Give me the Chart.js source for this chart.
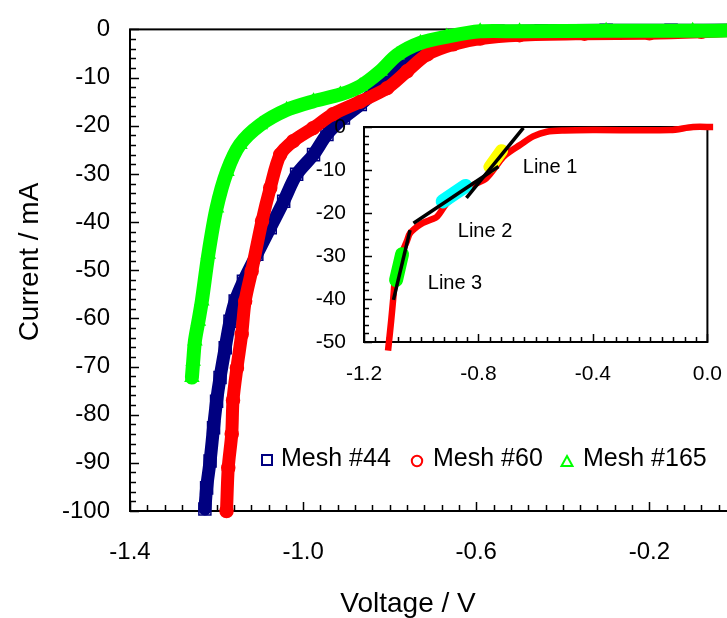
<!DOCTYPE html>
<html>
<head>
<meta charset="utf-8">
<script src="https://cdn.jsdelivr.net/npm/chart.js@4.4.1/dist/chart.umd.min.js"></script>
<style>
  html, body { margin: 0; padding: 0; background: #fff; overflow: hidden; }
  #wrap { position: relative; width: 760px; height: 618px; overflow: hidden; }
  #main { position: absolute; left: 0; top: -5px; }
  #inset { position: absolute; left: 290px; top: 95px; }
</style>
</head>
<body>
<div id="wrap">
  <canvas id="main" width="760" height="623"></canvas>
  <canvas id="inset" width="452" height="300"></canvas>
</div>
<script>
const FONT = '"Liberation Sans", Arial, sans-serif';

// Mesh #44 (blue squares)
const mesh44V = [-1.227, -1.223, -1.215, -1.207, -1.200, -1.192, -1.180, -1.169, -1.157, -1.138, -1.107, -1.076, -1.045, -1.015, -0.976, -0.945, -0.907, -0.868, -0.822, -0.776, -0.729, -0.667, -0.607, -0.55, -0.45, -0.30, -0.15, 0.0];
const mesh44I = [-99.6, -95.2, -89.6, -82.7, -77.2, -72.3, -66.1, -60.6, -56.4, -52.3, -46.7, -41.2, -35.7, -30.1, -26.0, -21.8, -18.4, -15.6, -11.8, -7.6, -4.6, -2.1, -0.8, -0.4, -0.3, -0.2, -0.2, -0.1];

// Mesh #60 (red circles)
const mesh60V = [-1.177, -1.173, -1.165, -1.162, -1.153, -1.142, -1.134, -1.119, -1.095, -1.076, -1.053, -1.023, -0.977, -0.931, -0.868, -0.806, -0.760, -0.713, -0.653, -0.591, -0.50, -0.35, -0.20, -0.08, 0.0];
const mesh60I = [-100, -91, -84, -77, -70.3, -63.3, -56.4, -50.2, -39.8, -32.9, -26.0, -23.2, -20.5, -17.6, -15.0, -12.2, -8.7, -5.2, -3.1, -1.9, -1.2, -0.9, -0.8, -0.5, -0.2];

// Mesh #165 (green triangles)
const mesh165V = [-1.257, -1.254, -1.250, -1.242, -1.234, -1.219, -1.200, -1.176, -1.146, -1.099, -1.038, -0.976, -0.914, -0.868, -0.822, -0.783, -0.729, -0.668, -0.591, -0.50, -0.30, -0.10, 0.0];
const mesh165I = [-72.3, -68.9, -64.7, -60.6, -56.4, -46.7, -37.1, -29.5, -23.9, -19.8, -16.7, -14.9, -13.5, -11.8, -8.7, -5.3, -2.8, -1.5, -0.4, -0.4, -0.3, -0.3, -0.2];

// inset: Mesh #60 curve, fitted lines and marked regions
const insetV = [-1.116, -1.105, -1.098, -1.092, -1.080, -1.067, -1.050, -1.039, -1.015, -0.994, -0.965, -0.945, -0.910, -0.864, -0.819, -0.772, -0.714, -0.690, -0.655, -0.609, -0.561, -0.50, -0.40, -0.13, -0.05, 0.02];
const insetI = [-52, -45, -40, -35.6, -32, -29.3, -26.5, -24.7, -23.2, -22.3, -21.5, -20.9, -17.7, -15.3, -13.5, -11.9, -7.0, -5.7, -4.2, -2.2, -1.1, -0.8, -0.7, -0.7, 0.0, 0.0];

const line1V = [-0.842, -0.643];
const line1I = [-16.5, -0.2];
const line2V = [-1.027, -0.730];
const line2I = [-22.4, -9.2];
const line3V = [-1.097, -1.039];
const line3I = [-40.2, -24.0];

const markYellowV = [-0.760, -0.719];
const markYellowI = [-9.3, -5.5];
const markCyanV = [-0.925, -0.845];
const markCyanI = [-17.3, -13.7];
const markGreenV = [-1.088, -1.067];
const markGreenI = [-35.6, -29.6];

const mainXTicks = [-1.4, -1.0, -0.6, -0.2];
const mainYTicks = [0, -10, -20, -30, -40, -50, -60, -70, -80, -90, -100];
const insetXTicks = [-1.2, -0.8, -0.4, 0.0];
const insetYTicks = [0, -10, -20, -30, -40, -50];

const legendNames = ['Mesh #44', 'Mesh #60', 'Mesh #165'];
const lineNames = ['Line 1', 'Line 2', 'Line 3'];

const pts = (vs, is) => vs.map((v, k) => ({ x: v, y: is[k] }));

// box and inward tick marks
function framePlugin(o) {
  return {
    id: 'frame',
    beforeDatasetsDraw(chart) {
      const { ctx, chartArea: a, scales: { x, y } } = chart;
      ctx.save();
      if (o.fill) {
        ctx.fillStyle = '#fff';
        ctx.fillRect(a.left, a.top, a.right - a.left, a.bottom - a.top);
      }
      ctx.strokeStyle = '#000';
      ctx.lineWidth = 2;
      ctx.strokeRect(a.left, a.top, a.right - a.left, a.bottom - a.top);
      ctx.lineWidth = 1.5;
      ctx.beginPath();
      const nx = Math.round((x.max - x.min) / o.xStep);
      for (let i = 0; i <= nx; i++) {
        const px = Math.round(x.getPixelForValue(x.min + i * o.xStep)) + 0.5;
        const len = i % o.xEvery === 0 ? o.major : o.minor;
        ctx.moveTo(px, a.bottom);
        ctx.lineTo(px, a.bottom - len);
      }
      const ny = Math.round((y.max - y.min) / o.yStep);
      for (let i = 0; i <= ny; i++) {
        const py = Math.round(y.getPixelForValue(y.max - i * o.yStep)) + 0.5;
        const len = i % o.yEvery === 0 ? o.major : o.minor;
        ctx.moveTo(a.left, py);
        ctx.lineTo(a.left + len, py);
      }
      ctx.stroke();
      ctx.restore();
    }
  };
}

// canvas is shifted up 5px, so page y = canvas y - 5
const mainDeco = {
  id: 'mainDeco',
  afterDatasetsDraw(chart) {
    const ctx = chart.ctx;
    ctx.save();
    ctx.fillStyle = '#000';
    ctx.font = '28px ' + FONT;
    ctx.textAlign = 'center';
    ctx.textBaseline = 'middle';
    ctx.fillText('Voltage / V', 408, 609);
    ctx.translate(30, 267);
    ctx.rotate(-Math.PI / 2);
    ctx.fillText('Current / mA', 0, 0);
    ctx.restore();

    // legend
    const items = [
      { name: legendNames[0], color: '#000080', shape: 'rect', mx: 267, tx: 281 },
      { name: legendNames[1], color: '#ff0000', shape: 'circle', mx: 417, tx: 433 },
      { name: legendNames[2], color: '#00ff00', shape: 'triangle', mx: 567, tx: 583 }
    ];
    const ly = 465;
    ctx.save();
    ctx.lineWidth = 2;
    items.forEach(it => {
      ctx.strokeStyle = it.color;
      ctx.beginPath();
      if (it.shape === 'rect') ctx.rect(it.mx - 5, ly - 5, 10, 10);
      else if (it.shape === 'circle') ctx.arc(it.mx, ly + 1, 5.2, 0, Math.PI * 2);
      else {
        ctx.moveTo(it.mx, ly - 4);
        ctx.lineTo(it.mx + 5.5, ly + 6);
        ctx.lineTo(it.mx - 5.5, ly + 6);
        ctx.closePath();
      }
      ctx.stroke();
      ctx.fillStyle = '#000';
      ctx.font = '25px ' + FONT;
      ctx.textAlign = 'left';
      ctx.textBaseline = 'middle';
      ctx.fillText(it.name, it.tx, ly - 1);
    });
    ctx.restore();
  }
};

const insetDeco = {
  id: 'insetDeco',
  afterDatasetsDraw(chart) {
    const { ctx, scales: { x, y } } = chart;
    const at = [[-0.55, -9.5], [-0.777, -24.2], [-0.882, -36.3]];
    ctx.save();
    ctx.fillStyle = '#000';
    ctx.font = '20px ' + FONT;
    ctx.textAlign = 'center';
    ctx.textBaseline = 'middle';
    lineNames.forEach((t, k) => ctx.fillText(t, x.getPixelForValue(at[k][0]), y.getPixelForValue(at[k][1])));
    ctx.restore();
  }
};

function series(label, vs, is, color, style, radius, width, order) {
  return {
    label, data: pts(vs, is), order,
    showLine: true, borderColor: color, borderWidth: width, tension: 0.3,
    borderJoinStyle: 'round', borderCapStyle: 'round',
    pointStyle: style, pointRadius: radius, pointBorderWidth: 1.5,
    pointBorderColor: color, pointBackgroundColor: 'rgba(0,0,0,0)', clip: false
  };
}

function axis(min, max, ticks, fmt, size, pad, fit) {
  return {
    type: 'linear', min, max,
    afterBuildTicks: s => { s.ticks = ticks.map(v => ({ value: v })); },
    afterFit: fit,
    grid: { display: false, drawTicks: false },
    border: { display: false },
    ticks: { autoSkip: false, maxRotation: 0, padding: pad, color: '#000', font: { family: FONT, size }, callback: fmt }
  };
}

new Chart(document.getElementById('main'), {
  type: 'scatter',
  data: {
    datasets: [
      series(legendNames[2], mesh165V, mesh165I, '#00ff00', 'triangle', 7.5, 14, 0),
      series(legendNames[1], mesh60V, mesh60I, '#ff0000', 'circle', 6.5, 13, 1),
      series(legendNames[0], mesh44V, mesh44I, '#000080', 'rect', 8.5, 13, 2)
    ]
  },
  options: {
    responsive: false, animation: false, devicePixelRatio: 1,
    layout: { padding: { left: 0, top: 23, right: 24, bottom: 0 } },
    plugins: { legend: { display: false }, tooltip: { enabled: false } },
    scales: {
      x: axis(-1.4, 0, mainXTicks, v => v.toFixed(1), 24, 27, s => { s.height = 107; }),
      y: axis(-100, 0, mainYTicks, v => String(v), 24, 20, s => { s.width = 130; })
    }
  },
  plugins: [framePlugin({ xStep: 0.04, xEvery: 10, yStep: 2, yEvery: 5, minor: 6, major: 9 }), mainDeco]
});

function seg(vs, is, color, width, cap, order) {
  return {
    data: pts(vs, is), order, showLine: true, borderColor: color, borderWidth: width,
    borderCapStyle: cap, pointRadius: 0, clip: false
  };
}

new Chart(document.getElementById('inset'), {
  type: 'scatter',
  data: {
    datasets: [
      seg(line1V, line1I, '#000', 3.5, 'butt', 0),
      seg(line2V, line2I, '#000', 3.5, 'butt', 0),
      seg(line3V, line3I, '#000', 3.5, 'butt', 0),
      seg(markYellowV, markYellowI, '#ffff00', 13, 'round', 1),
      seg(markCyanV, markCyanI, '#00ffff', 14, 'round', 1),
      seg(markGreenV, markGreenI, '#00ff00', 14, 'round', 1),
      Object.assign(seg(insetV, insetI, '#ff0000', 6.5, 'butt', 2), { tension: 0.3, borderJoinStyle: 'round' })
    ]
  },
  options: {
    responsive: false, animation: false, devicePixelRatio: 1,
    layout: { padding: { left: 0, top: 32, right: 5, bottom: 0 } },
    plugins: { legend: { display: false }, tooltip: { enabled: false } },
    scales: {
      x: axis(-1.2, 0, insetXTicks, v => v.toFixed(1), 21, 20, s => { s.height = 53; }),
      y: axis(-50, 0, insetYTicks, v => String(v), 21, 18, s => { s.width = 74; })
    }
  },
  plugins: [framePlugin({ fill: true, xStep: 0.04, xEvery: 10, yStep: 2, yEvery: 5, minor: 5, major: 8 }), insetDeco]
});
</script>
</body>
</html>
